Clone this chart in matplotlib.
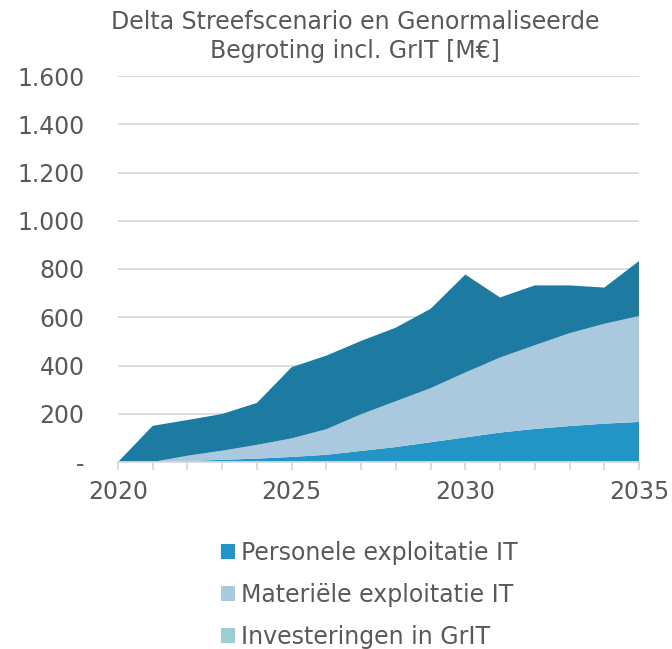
import matplotlib.pyplot as plt
from matplotlib.patches import Patch
from matplotlib.ticker import FuncFormatter
import numpy as np

# data (M€)
years = list(range(2020, 2036))
personele = [0, 0, 4, 9, 14, 21, 30, 46, 62, 82, 102, 122, 137, 149, 159, 166]
materiele = [0, 0, 22, 38, 57, 77, 106, 152, 190, 224, 269, 311, 347, 385, 414, 439]
investeringen = [0] * 16
overig = [0, 150, 148, 152, 174, 295, 305, 304, 305, 329, 406, 249, 248, 198, 150, 228]

labels = ["Personele exploitatie IT", "Materiële exploitatie IT", "Investeringen in GrIT"]
colors = ["#2394c6", "#aac8de", "#9bcfd3", "#1d7aa1"]
txt = "#595959"

plt.rcParams['font.family'] = ['DejaVu Sans']

fig = plt.figure(figsize=(6.72, 6.49), dpi=100)
ax = fig.add_axes([118/672, 1-462/649, (639-118)/672, (462-76)/649])

ax.stackplot(years, personele, materiele, investeringen, overig,
             colors=colors, linewidth=0, zorder=2)

ax.set_xlim(2020, 2035)
ax.set_ylim(0, 1600)
ax.set_yticks(np.arange(0, 1601, 200))
ax.set_xticks([2020, 2025, 2030, 2035])
ax.set_xticks(years, minor=True)

def fmt(v, pos):
    if v == 0:
        return "-"
    return f"{int(v):,}".replace(",", ".")
ax.yaxis.set_major_formatter(FuncFormatter(fmt))

ax.grid(axis='y', color='#d9d9d9', linewidth=1.3, zorder=0)
ax.set_axisbelow(True)
for s in ['top', 'right', 'left']:
    ax.spines[s].set_visible(False)
ax.spines['bottom'].set_color('#d9d9d9')
ax.spines['bottom'].set_linewidth(1.3)
ax.spines['bottom'].set_zorder(3)

ax.tick_params(axis='y', length=0, pad=24, labelsize=17, labelcolor=txt)
ax.tick_params(axis='x', which='both', length=6, width=1.3, color='#d9d9d9',
               labelsize=17, labelcolor=txt, pad=7)

fig.text(355/672, 1-10/649, "Delta Streefscenario en Genormaliseerde\nBegroting incl. GrIT [M€]",
         ha='center', va='top', fontsize=17, color=txt, linespacing=1.25)

handles = [Patch(facecolor=c, edgecolor='none') for c in colors[:3]]
leg = fig.legend(handles, labels, loc='upper left', bbox_to_anchor=(221/672, 1-541/649),
                 frameon=False, fontsize=17, labelcolor=txt, handlelength=0.6,
                 handleheight=0.6, handletextpad=0.25, labelspacing=0.76,
                 borderpad=0, borderaxespad=0)

fig.savefig("out.png", dpi=100)
